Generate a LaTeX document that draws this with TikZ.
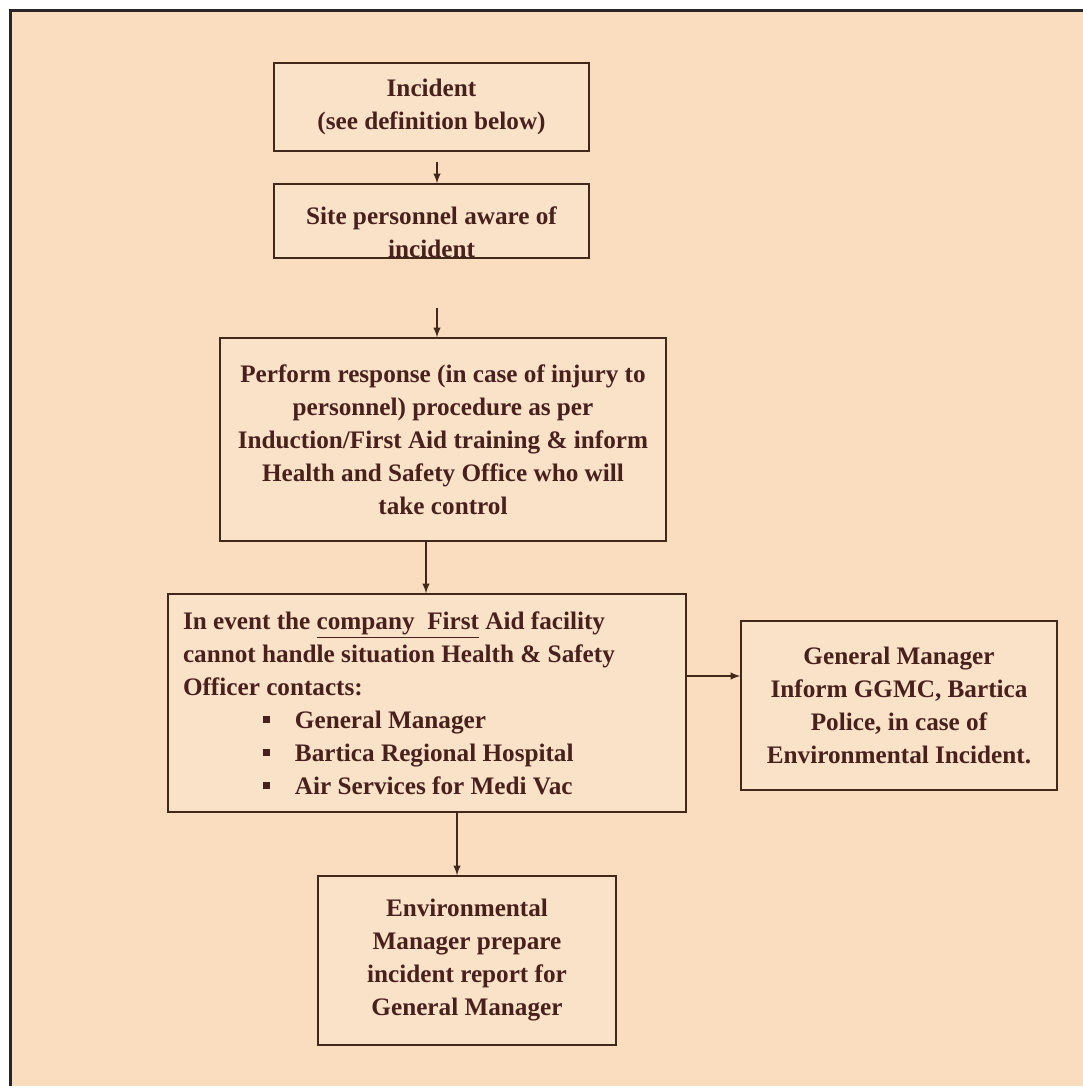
\documentclass[tikz,border=0pt]{standalone}
\usepackage{fontspec}
\setmainfont{Liberation Serif}
\definecolor{ffpeach}{RGB}{249,221,190}
\definecolor{ffbox}{RGB}{250,226,201}
\definecolor{ffink}{RGB}{72,32,28}
\definecolor{ffline}{RGB}{66,40,26}
\tikzset{
  stepbox/.style={draw=ffline, line width=0.7pt, fill=ffbox, inner sep=0pt,
    align=center, text=ffink, font=\fontsize{12.6}{16.5}\selectfont\bfseries},
  flow/.style={->, >=latex, draw=ffline, line width=0.7pt}
}
\newcommand{\sqbullet}{\makebox[16pt][l]{\rule[2.4pt]{3.5pt}{3.5pt}}}

\begin{document}
\begin{tikzpicture}[x=0.5pt, y=-0.5pt]
    \useasboundingbox (0,0) rectangle (1083,1089);
    \fill[white] (0,0) rectangle (1083,1089);
    \fill[ffpeach] (9,9) rectangle (1083,1086);
    \draw[black!85, line width=1.5pt] (10,1086) -- (10,10) -- (1083,10);

    \node[stepbox, minimum width=157.5pt, minimum height=44pt] (incident) at (431.5,107)
      {Incident\\(see definition below)};
    \node[stepbox, minimum width=157.5pt, minimum height=37pt,
      path picture={\node[text=ffink, align=center, font=\fontsize{12.6}{16.5}\selectfont\bfseries]
        at ([yshift=-5.5pt]path picture bounding box.center) {Site personnel aware of\\incident};}]
      (aware) at (431.5,221) {};
    \node[stepbox, minimum width=223pt, minimum height=101.5pt] (response) at (443,439.5)
      {Perform response (in case of injury to\\personnel) procedure as per\\
       Induction/First Aid training \& inform\\Health and Safety Office who will\\take control};
    \node[stepbox, align=left, text width=244pt, inner xsep=7.5pt, minimum height=109pt]
      (contacts) at (427,703)
      {\spaceskip=0pt\relax
       In event the \underline{company~~First} Aid facility\\
       cannot handle situation Health \& Safety\\
       Officer contacts:\\
       \hspace*{40pt}\sqbullet General Manager\\
       \hspace*{40pt}\sqbullet Bartica Regional Hospital\\
       \hspace*{40pt}\sqbullet Air Services for Medi Vac};
    \node[stepbox, minimum width=158pt, minimum height=84.5pt] (gm) at (899,705.5)
      {General Manager\\Inform GGMC, Bartica\\Police, in case of\\Environmental Incident.};
    \node[stepbox, minimum width=149pt, minimum height=84.5pt] (report) at (467,960.5)
      {Environmental\\Manager prepare\\incident report for\\General Manager};

    \coordinate (a1) at (437,162);
    \coordinate (a2) at (437,308);
    \draw[flow] (a1) -- (a1 |- aware.north);
    \draw[flow] (a2) -- (a2 |- response.north);
    \draw[flow] ([xshift=-8.5pt]response.south) -- ([xshift=-8.5pt]response.south |- contacts.north);
    \draw[flow] ([yshift=13.5pt]contacts.east) -- ([yshift=13.5pt]contacts.east -| gm.west);
    \draw[flow] ([xshift=15pt]contacts.south) -- ([xshift=15pt]contacts.south |- report.north);
  \end{tikzpicture}
\end{document}
